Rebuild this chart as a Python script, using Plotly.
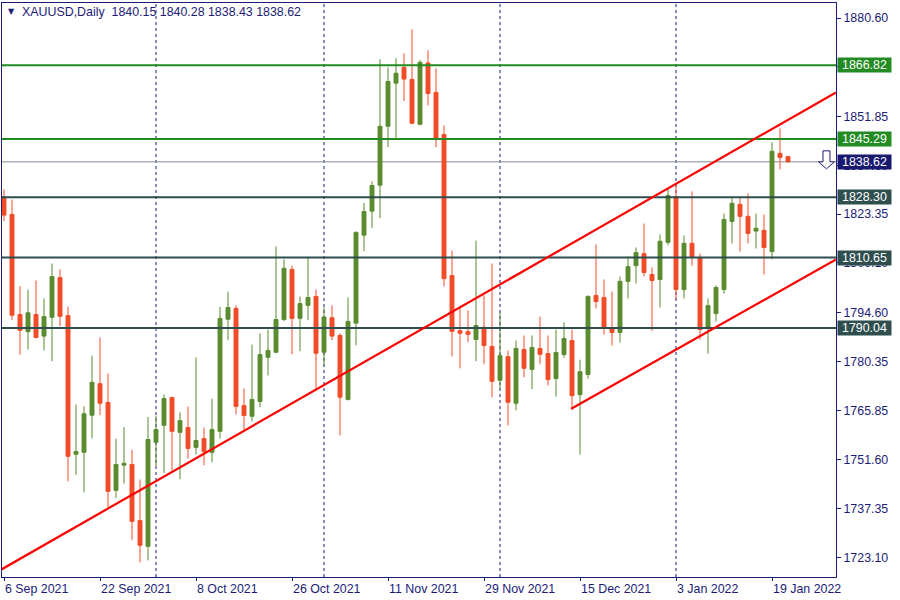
import plotly.graph_objects as go
from datetime import date

# ---------------- data ----------------
dates = [
    "2021-09-06", "2021-09-07", "2021-09-08", "2021-09-09", "2021-09-10",
    "2021-09-13", "2021-09-14", "2021-09-15", "2021-09-16", "2021-09-17",
    "2021-09-20", "2021-09-21", "2021-09-22", "2021-09-23", "2021-09-24",
    "2021-09-27", "2021-09-28", "2021-09-29", "2021-09-30",
    "2021-10-01", "2021-10-04", "2021-10-05", "2021-10-06", "2021-10-07",
    "2021-10-08", "2021-10-11", "2021-10-12", "2021-10-13", "2021-10-14",
    "2021-10-15", "2021-10-18", "2021-10-19", "2021-10-20", "2021-10-21",
    "2021-10-22", "2021-10-25", "2021-10-26", "2021-10-27", "2021-10-28",
    "2021-10-29",
    "2021-11-01", "2021-11-02", "2021-11-03", "2021-11-04", "2021-11-05",
    "2021-11-08", "2021-11-09", "2021-11-10", "2021-11-11", "2021-11-12",
    "2021-11-15", "2021-11-16", "2021-11-17", "2021-11-18", "2021-11-19",
    "2021-11-22", "2021-11-23", "2021-11-24", "2021-11-25", "2021-11-26",
    "2021-11-29", "2021-11-30",
    "2021-12-01", "2021-12-02", "2021-12-03", "2021-12-06", "2021-12-07",
    "2021-12-08", "2021-12-09", "2021-12-10", "2021-12-13", "2021-12-14",
    "2021-12-15", "2021-12-16", "2021-12-17", "2021-12-20", "2021-12-21",
    "2021-12-22", "2021-12-23", "2021-12-27", "2021-12-28", "2021-12-29",
    "2021-12-30", "2021-12-31",
    "2022-01-03", "2022-01-04", "2022-01-05", "2022-01-06", "2022-01-07",
    "2022-01-10", "2022-01-11", "2022-01-12", "2022-01-13", "2022-01-14",
    "2022-01-17", "2022-01-18", "2022-01-19", "2022-01-20", "2022-01-21",
]

opens = [
    1828.4, 1823.25, 1794.0, 1789.0, 1794.0, 1787.7, 1793.2, 1804.8, 1793.7, 1753.2,
    1753.75, 1764.6, 1773.8, 1768.3, 1742.65, 1750.0, 1750.2, 1733.8, 1726.3, 1756.7,
    1761.65, 1769.75, 1759.6, 1761.0, 1755.2, 1757.75, 1753.75, 1759.9, 1792.65, 1795.8,
    1767.4, 1764.3, 1768.6, 1781.5, 1783.0, 1792.55, 1807.2, 1792.9, 1796.7, 1799.3,
    1783.0, 1793.05, 1787.9, 1769.2, 1791.5, 1817.2, 1824.2, 1831.8, 1849.0, 1861.6,
    1866.2, 1862.7, 1849.6, 1867.5, 1858.9, 1846.6, 1805.4, 1789.3, 1789.0, 1786.7,
    1790.3, 1784.7, 1774.8, 1781.7, 1768.1, 1783.8, 1778.0, 1784.1, 1782.6, 1775.3,
    1782.3, 1786.4, 1770.6, 1776.5, 1799.6, 1799.0, 1790.2, 1788.75, 1803.7, 1808.3,
    1811.8, 1805.7, 1804.25, 1815.1, 1828.5, 1801.3, 1814.8, 1810.7, 1790.2, 1794.3,
    1801.3, 1821.2, 1826.2, 1822.7, 1818.4, 1818.6, 1812.4, 1841.1, 1840.15,
]
highs = [
    1830.6, 1827.6, 1802.3, 1801.3, 1803.95, 1798.7, 1808.9, 1807.2, 1796.35, 1767.7,
    1767.2, 1782.0, 1787.3, 1776.75, 1757.75, 1761.1, 1754.5, 1745.8, 1764.1, 1764.5,
    1770.7, 1770.0, 1765.45, 1767.1, 1781.45, 1761.0, 1769.45, 1796.25, 1800.7, 1796.7,
    1772.4, 1785.2, 1788.5, 1789.6, 1813.9, 1810.1, 1808.3, 1799.3, 1810.8, 1801.3,
    1796.06, 1796.7, 1788.5, 1799.0, 1818.3, 1826.6, 1832.9, 1868.6, 1866.2, 1868.9,
    1870.3, 1877.3, 1868.3, 1871.2, 1865.9, 1849.3, 1812.7, 1796.4, 1795.2, 1815.6,
    1799.6, 1808.9, 1794.6, 1783.5, 1786.4, 1787.9, 1787.9, 1793.4, 1787.9, 1789.6,
    1791.7, 1789.6, 1780.8, 1799.6, 1814.5, 1804.25, 1800.7, 1805.1, 1811.0, 1813.6,
    1820.6, 1807.8, 1817.4, 1830.6, 1832.0, 1817.1, 1830.0, 1811.8, 1798.7, 1802.5,
    1823.5, 1828.5, 1828.5, 1829.4, 1823.5, 1823.2, 1844.3, 1848.4, 1840.28,
]
lows = [
    1821.3, 1792.35, 1782.3, 1783.8, 1787.0, 1783.5, 1780.4, 1790.6, 1745.3, 1747.2,
    1742.05, 1757.8, 1764.6, 1737.8, 1740.4, 1744.6, 1728.2, 1721.6, 1722.2, 1749.7,
    1747.7, 1748.5, 1745.9, 1751.9, 1753.1, 1750.0, 1750.8, 1757.75, 1786.5, 1764.8,
    1760.4, 1762.8, 1766.9, 1776.2, 1782.7, 1792.05, 1782.4, 1783.3, 1792.35, 1772.1,
    1778.9, 1786.5, 1758.7, 1768.9, 1785.0, 1812.5, 1819.3, 1822.2, 1842.9, 1845.6,
    1856.4, 1849.6, 1849.3, 1855.1, 1842.9, 1802.2, 1781.8, 1778.3, 1785.9, 1780.4,
    1779.5, 1769.85, 1772.2, 1761.6, 1766.0, 1775.7, 1772.2, 1779.5, 1773.3, 1770.0,
    1781.4, 1766.2, 1753.1, 1775.3, 1795.8, 1788.2, 1784.95, 1785.8, 1798.7, 1803.1,
    1805.1, 1789.3, 1796.06, 1814.2, 1798.4, 1798.7, 1808.3, 1786.7, 1782.6, 1792.0,
    1800.1, 1814.8, 1812.4, 1814.8, 1813.3, 1805.7, 1810.1, 1836.4, 1838.43,
]
closes = [
    1823.05, 1793.8, 1789.4, 1794.5, 1787.3, 1793.4, 1805.1, 1793.5, 1752.6, 1754.0,
    1765.0, 1774.2, 1768.1, 1742.35, 1750.2, 1750.55, 1733.6, 1726.6, 1757.5, 1760.4,
    1769.45, 1759.9, 1763.0, 1754.9, 1757.2, 1753.95, 1760.4, 1792.85, 1796.06, 1767.2,
    1764.5, 1769.2, 1782.3, 1783.5, 1792.55, 1807.5, 1792.9, 1797.2, 1799.0, 1782.7,
    1793.3, 1787.7, 1769.85, 1792.0, 1818.0, 1824.1, 1831.7, 1849.0, 1862.1, 1864.5,
    1862.8, 1849.9, 1867.7, 1858.6, 1845.5, 1804.5, 1789.1, 1788.55, 1788.2, 1790.8,
    1784.95, 1774.5, 1782.0, 1768.4, 1784.1, 1778.3, 1784.4, 1782.4, 1775.0, 1782.9,
    1787.0, 1770.3, 1777.3, 1799.3, 1797.8, 1790.2, 1788.75, 1803.7, 1808.0, 1812.1,
    1806.3, 1803.95, 1815.4, 1828.8, 1801.3, 1814.8, 1810.7, 1789.6, 1796.6, 1801.9,
    1821.8, 1826.5, 1822.7, 1817.7, 1819.2, 1813.6, 1841.7, 1839.9, 1838.62,
]

symbol = "XAUUSD"
timeframe = "Daily"

# horizontal levels drawn on the chart
resistance_levels = [1866.82, 1845.29]
support_levels = [1828.30, 1810.65, 1790.04]

# trend channel anchors (bar index, price)
upper_channel_bars = [-0.5, 104.0]
upper_channel_prices = [1719.3, 1858.9]
lower_channel_bars = [70.9, 104.0]
lower_channel_prices = [1766.5, 1810.1]

# price scale labels
price_ticks = [1880.60, 1866.35, 1851.85, 1837.60, 1823.35, 1809.10,
               1794.60, 1780.35, 1765.85, 1751.60, 1737.35, 1723.10]
date_label_step = 12

# ---------------- styles ----------------
FONT = "Liberation Sans, Arial, sans-serif"
NAVY = "#1c1c78"
UP = "#5A8B2D"
DOWN = "#F24B26"
RES_COLOR = "#228B22"
SUP_COLOR = "#2F4F4F"
BID_COLOR = "#191970"
BID_LINE = "#7f8c99"
FS = 12.4

n = len(dates)
idx = list(range(n))
dobj = [date.fromisoformat(d) for d in dates]

fig = go.Figure()
fig.add_trace(go.Candlestick(
    x=idx, open=opens, high=highs, low=lows, close=closes,
    increasing=dict(line=dict(color=UP, width=1), fillcolor=UP),
    decreasing=dict(line=dict(color=DOWN, width=1), fillcolor=DOWN),
    whiskerwidth=0, hoverinfo="skip", showlegend=False,
))

# month separators
for i in range(1, n):
    if dobj[i].month != dobj[i - 1].month:
        fig.add_shape(type="line", xref="x", yref="paper", x0=i, x1=i, y0=0, y1=1,
                      line=dict(color=NAVY, width=1, dash="3px,3px"), layer="below")

# bid line
bid = closes[-1]
fig.add_shape(type="line", xref="paper", yref="y", x0=0, x1=1, y0=bid, y1=bid,
              line=dict(color=BID_LINE, width=1), layer="below")

for p in resistance_levels:
    fig.add_shape(type="line", xref="paper", yref="y", x0=0, x1=1, y0=p, y1=p,
                  line=dict(color=RES_COLOR, width=2))
for p in support_levels:
    fig.add_shape(type="line", xref="paper", yref="y", x0=0, x1=1, y0=p, y1=p,
                  line=dict(color=SUP_COLOR, width=2))

# channel lines
fig.add_shape(type="line", xref="x", yref="y",
              x0=upper_channel_bars[0], x1=upper_channel_bars[1],
              y0=upper_channel_prices[0], y1=upper_channel_prices[1],
              line=dict(color="#ff0000", width=2.2))
fig.add_shape(type="line", xref="x", yref="y",
              x0=lower_channel_bars[0], x1=lower_channel_bars[1],
              y0=lower_channel_prices[0], y1=lower_channel_prices[1],
              line=dict(color="#ff0000", width=2.2))

# hollow down arrow object near the bid line
fig.add_shape(type="path", xref="x", yref="y", xsizemode="pixel", ysizemode="pixel",
              xanchor=102.81, yanchor=bid,
              path="M -3.5,11 L 3.5,11 L 3.5,0 L 8,0 L 0,-7 L -8,0 L -3.5,0 Z",
              line=dict(color=NAVY, width=1), fillcolor="white")

# price labels on the right
def price_box(p, color):
    fig.add_annotation(xref="paper", x=1, xanchor="left", xshift=1,
                       yref="y", y=p, yanchor="middle", text=f"{p:.2f}",
                       showarrow=False, bgcolor=color, borderpad=1,
                       width=51, height=12, align="center",
                       font=dict(family=FONT, size=FS, color="white"))

for p in resistance_levels:
    price_box(p, RES_COLOR)
for p in support_levels:
    price_box(p, SUP_COLOR)
price_box(bid, BID_COLOR)

# header
fig.add_annotation(xref="paper", yref="paper", x=0, y=1, xanchor="left", yanchor="top",
                   xshift=4, yshift=-2, text="▼", showarrow=False,
                   font=dict(family="DejaVu Sans", size=8, color=NAVY))
fig.add_annotation(xref="paper", yref="paper", x=0, y=1, xanchor="left", yanchor="top",
                   xshift=18, yshift=0,
                   text=f"{symbol},{timeframe}  {opens[-1]:.2f} {highs[-1]:.2f} {lows[-1]:.2f} {closes[-1]:.2f}",
                   showarrow=False, font=dict(family=FONT, size=FS, color=NAVY))

tick_idx = list(range(0, n, date_label_step))
tick_text = [f"{dobj[i].day} {dobj[i].strftime('%b %Y')}" for i in tick_idx]

fig.update_layout(
    width=900, height=600,
    margin=dict(l=2, r=64, t=3, b=23),
    paper_bgcolor="white", plot_bgcolor="white",
    showlegend=False,
    boxgap=0.3, boxgroupgap=0.3,
    xaxis=dict(
        range=[-0.25, 104.0], rangeslider=dict(visible=False),
        showgrid=False, zeroline=False, automargin=False,
        showline=True, mirror=True, linecolor=NAVY, linewidth=1,
        tickmode="array", tickvals=tick_idx, ticktext=tick_text,
        ticks="outside", ticklen=3, tickcolor=NAVY,
        ticklabelposition="outside right",
        tickfont=dict(family=FONT, size=FS, color=NAVY),
    ),
    yaxis=dict(
        range=[1717.33, 1885.02], side="right",
        showgrid=False, zeroline=False, automargin=False,
        showline=True, mirror=True, linecolor=NAVY, linewidth=1,
        tickmode="array", tickvals=price_ticks,
        ticktext=[f"{v:.2f}" for v in price_ticks],
        ticks="outside", ticklen=4, tickcolor=NAVY,
        tickfont=dict(family=FONT, size=FS, color=NAVY),
    ),
)

fig.write_html("out.html", config={"displayModeBar": False},
               post_script="document.body.style.margin='0';")
